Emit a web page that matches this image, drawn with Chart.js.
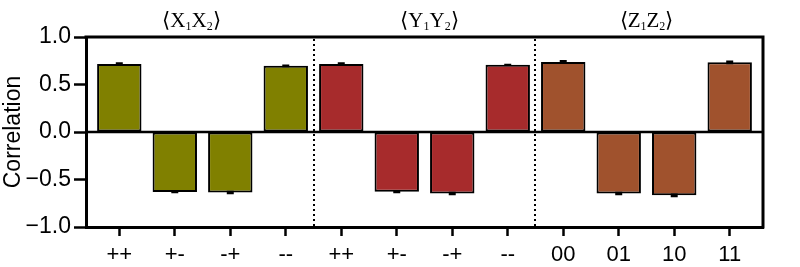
<!DOCTYPE html>
<html>
<head>
<meta charset="utf-8">
<script src="https://cdn.jsdelivr.net/npm/chart.js@4.4.1/dist/chart.umd.min.js"></script>
<style>
html,body{margin:0;padding:0;background:#fff;}
#wrap{width:800px;height:267px;}
</style>
</head>
<body>
<div id="wrap"><canvas id="c" width="800" height="267"></canvas></div>
<script>
// ---- data ----
const categories = ['++','+-','-+','--','++','+-','-+','--','00','01','10','11'];
const groupNames = ['X','Y','Z'];
const xxValues = [0.715, -0.632, -0.637, 0.697];
const yyValues = [0.715, -0.630, -0.648, 0.707];
const zzValues = [0.737, -0.648, -0.667, 0.733];
const xxErrors = [0.010, 0.003, 0.008, 0.004];
const yyErrors = [0.010, 0.004, 0.008, 0.002];
const zzErrors = [0.010, 0.008, 0.008, 0.010];
const yTicks = [-1.0, -0.5, 0.0, 0.5, 1.0];

const groupColors = ['#808000', '#A72B2C', '#A0522D'];
const values = [...xxValues, ...yyValues, ...zzValues];
const errors = [...xxErrors, ...yyErrors, ...zzErrors];
const colors = categories.map((_, i) => groupColors[Math.floor(i / 4)]);

const extras = {
  id: 'extras',
  afterDatasetsDraw(chart) {
    const ctx = chart.ctx, x = chart.scales.x, y = chart.scales.y, a = chart.chartArea;
    ctx.save();
    // error bars
    ctx.strokeStyle = '#000';
    ctx.lineWidth = 2;
    values.forEach((v, i) => {
      const px = x.getPixelForValue(i);
      const top = y.getPixelForValue(v + errors[i]);
      const bot = y.getPixelForValue(v - errors[i]);
      ctx.beginPath();
      ctx.moveTo(px, top); ctx.lineTo(px, bot);
      ctx.moveTo(px - 3.5, top); ctx.lineTo(px + 3.5, top);
      ctx.moveTo(px - 3.5, bot); ctx.lineTo(px + 3.5, bot);
      ctx.stroke();
    });
    // dotted separators
    ctx.setLineDash([2, 3]);
    ctx.lineWidth = 2;
    [3.5, 7.5].forEach(s => {
      const px = Math.round(x.getPixelForValue(s));
      ctx.beginPath();
      ctx.moveTo(px, a.top + 2); ctx.lineTo(px, a.bottom);
      ctx.stroke();
    });
    ctx.setLineDash([]);
    // zero line
    ctx.lineWidth = 2.5;
    const z = y.getPixelForValue(0);
    ctx.beginPath(); ctx.moveTo(a.left, z); ctx.lineTo(a.right, z); ctx.stroke();
    // frame top/right
    ctx.lineWidth = 3;
    ctx.beginPath();
    ctx.moveTo(a.left - 1.5, a.top); ctx.lineTo(a.right, a.top); ctx.lineTo(a.right, a.bottom + 1.5);
    ctx.stroke();
    // group titles
    const offs = [-11, 5, 0];
    ctx.fillStyle = '#000';
    ctx.textBaseline = 'alphabetic';
    groupNames.forEach((g, k) => {
      const cx = x.getPixelForValue(k * 4 + 1.5) + offs[k];
      const big = '21px "Liberation Serif"';
      const small = '12px "Liberation Serif"';
      const parts = [['\u27E8', big, 0], [g, big, 0], ['1', small, 3], [g, big, 0], ['2', small, 3], ['\u27E9', big, 0]];
      let w = 0;
      parts.forEach(p => { ctx.font = p[1]; w += ctx.measureText(p[0]).width; });
      let px = cx - w / 2;
      const base = 27;
      parts.forEach(p => {
        ctx.font = p[1];
        ctx.fillText(p[0], px, base + p[2]);
        px += ctx.measureText(p[0]).width;
      });
    });
    ctx.restore();
  }
};

new Chart(document.getElementById('c'), {
  type: 'bar',
  data: {
    datasets: [{
      data: values.map((v, i) => ({ x: i, y: v })),
      backgroundColor: colors,
      borderColor: '#000',
      borderWidth: 2,
      borderSkipped: false,
      categoryPercentage: 1.0,
      barPercentage: 0.8
    }]
  },
  options: {
    responsive: false,
    animation: false,
    devicePixelRatio: 1,
    layout: { padding: { top: 37, right: 37, left: 0, bottom: 0 } },
    plugins: { legend: { display: false }, tooltip: { enabled: false } },
    scales: {
      x: {
        type: 'linear',
        offset: false,
        min: -0.6,
        max: 11.6,
        afterBuildTicks(scale) { scale.ticks = categories.map((_, i) => ({ value: i })); },
        afterFit(scale) { scale.height = 40; },
        ticks: {
          autoSkip: false,
          maxRotation: 0,
          padding: 6,
          color: '#000',
          font: { family: '"Liberation Sans", Arial, sans-serif', size: 22 },
          callback: (v) => categories[v]
        },
        grid: { display: true, offset: false, drawOnChartArea: false, drawTicks: true, tickLength: 9, tickWidth: 2.5, tickColor: '#000' },
        border: { display: true, color: '#000', width: 3 }
      },
      y: {
        min: -1,
        max: 1,
        afterBuildTicks(scale) { scale.ticks = yTicks.map(v => ({ value: v })); },
        afterFit(scale) { scale.width = 86; },
        ticks: {
          color: '#000',
          padding: 3,
          font: { family: '"Liberation Sans", Arial, sans-serif', size: 23 },
          callback: (v) => (v < 0 ? '\u2212' : '') + Math.abs(v).toFixed(1)
        },
        title: {
          display: true,
          text: 'Correlation',
          color: '#000',
          padding: { top: 0, bottom: 0 },
          font: { family: '"Liberation Sans", Arial, sans-serif', size: 23 }
        },
        grid: { display: true, drawOnChartArea: false, drawTicks: true, tickLength: 12, tickWidth: 2.5, tickColor: '#000' },
        border: { display: true, color: '#000', width: 3 }
      }
    }
  },
  plugins: [extras]
});
</script>
</body>
</html>
